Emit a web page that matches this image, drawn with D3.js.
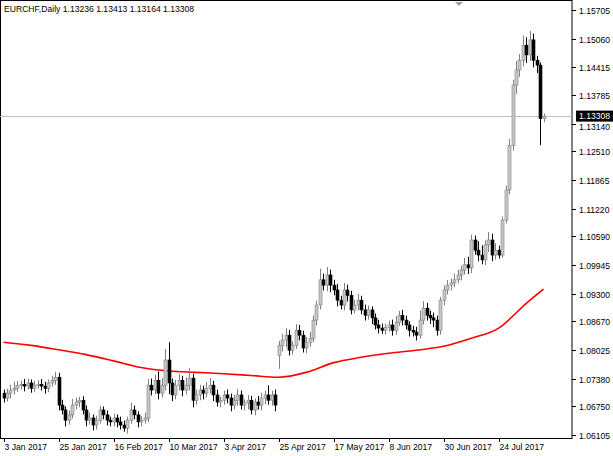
<!DOCTYPE html>
<html><head><meta charset="utf-8">
<script src="https://cdn.jsdelivr.net/npm/d3@7/dist/d3.min.js"></script>
<style>body{margin:0;background:#fff}svg{display:block}text{font-family:"Liberation Sans",sans-serif;font-size:8.6px}</style>
</head><body><svg id="c" width="613" height="456"></svg>
<script>
const dateLabels = ["3 Jan 2017","25 Jan 2017","16 Feb 2017","10 Mar 2017","3 Apr 2017","25 Apr 2017","17 May 2017","8 Jun 2017","30 Jun 2017","24 Jul 2017"];
const dateLabelIdx = [0,16,32,48,64,80,96,112,128,144];
const yTicks = [1.15705,1.15060,1.14415,1.13785,1.13140,1.12510,1.11865,1.11220,1.10590,1.09945,1.09300,1.08670,1.08025,1.07380,1.06750,1.06105];
const closes = [
1.0694,1.0705,1.0712,1.0716,1.0723,1.0725,1.0721,1.0728,1.0716,1.0723,1.0725,1.0721,1.0716,1.0728,1.0734,1.0741,
1.0678,1.0667,1.0644,1.0656,1.0678,1.0685,1.0689,1.0667,1.0644,1.0649,1.0633,1.0644,1.0667,1.0656,1.0644,1.0640,
1.0649,1.0640,1.0633,1.0626,1.0644,1.0667,1.0656,1.0640,1.0644,1.0649,1.0723,1.0712,1.0734,1.0705,1.0723,1.0780,
1.0728,1.0701,1.0723,1.0734,1.0712,1.0723,1.0739,1.0689,1.0701,1.0712,1.0705,1.0716,1.0723,1.0701,1.0685,1.0689,
1.0701,1.0694,1.0678,1.0689,1.0701,1.0678,1.0683,1.0689,1.0667,1.0685,1.0678,1.0694,1.0701,1.0689,1.0701,1.0678,
1.0813,1.0825,1.0836,1.0802,1.0813,1.0847,1.0836,1.0807,1.0820,1.0829,1.0870,1.0904,1.0961,1.0949,1.0972,1.0949,
1.0938,1.0915,1.0904,1.0938,1.0926,1.0893,1.0904,1.0915,1.0893,1.0881,1.0893,1.0875,1.0859,1.0852,1.0847,1.0854,
1.0859,1.0847,1.0865,1.0881,1.0870,1.0859,1.0847,1.0843,1.0836,1.0870,1.0897,1.0881,1.0875,1.0870,1.0847,1.0915,
1.0938,1.0949,1.0954,1.0961,1.0972,1.0983,1.0995,1.0988,1.1051,1.1028,1.1017,1.1006,1.1040,1.1051,1.1017,1.1028,
1.1017,1.1096,1.1164,1.1265,1.1401,1.1435,1.1457,1.1491,1.1469,1.1503,1.1457,1.1446,1.1325,1.13308];
const firstOpen = 1.0705;
const gapBar = 80, gapOpen = 1.0790;
const upWickPips = [
8,10,12,15,10,8,12,10,8,10,9,12,10,8,10,12, 10,12,8,10,14,10,8,9,10,12,8,10,9,8,10,8,
10,8,12,10,8,16,10,8,9,12,14,15,12,20,16,25, 40,10,12,14,10,18,22,10,12,12,10,14,16,10,12,8,
10,12,10,12,14,10,8,12,10,8,14,12,10,22,10,12, 10,14,16,12,10,14,12,10,12,14,10,10,25,14,18,12,
12,14,10,16,12,10,12,14,10,12,10,8,10,12,10,8, 10,12,14,10,12,10,8,10,12,22,16,12,10,12,10,8,
10,12,10,14,12,10,16,18,12,10,20,22,10,18,14,16, 10,8,10,14,12,20,14,22,18,20,14,10,6,6];
const dnWickPips = [
10,8,12,10,8,10,12,8,10,9,8,10,12,9,8,10, 12,10,14,10,8,10,12,10,14,10,12,10,8,10,12,10,
10,12,10,8,12,8,10,12,10,8,10,12,10,14,10,12, 25,14,10,12,14,10,12,16,10,12,14,10,12,14,10,12,
10,12,14,10,12,10,12,14,10,12,10,12,14,10,12,14, 30,14,16,12,10,8,12,10,12,10,8,12,10,12,14,16,
12,14,10,12,14,10,8,12,10,12,10,14,10,12,8,10, 10,12,10,8,12,10,14,10,12,8,10,12,14,16,12,10,
12,10,12,10,8,12,10,14,12,10,14,10,12,16,14,10, 8,6,8,10,12,20,16,14,18,14,16,18,60,8];
const maIdx = [0,8,16,24,32,40,48,56,64,72,80,88,96,104,112,120,128,136,144,152,157];
const maVals = [1.0820,1.0813,1.0803,1.0792,1.0778,1.0763,1.0755,1.0752,1.0749,1.0745,1.0741,1.0752,1.0774,1.0786,1.0795,1.0802,1.0811,1.0829,1.0852,1.0908,1.0940];
const title = "EURCHF,Daily  1.13236 1.13413 1.13164 1.13308";
const lastPrice = 1.13308;

const svg = d3.select("#c");
const R=572, B=438;
const x = d3.scaleLinear().domain([0,157]).range([3.5,543.5]);
const y = d3.scaleLinear().domain([1.06105,1.15705]).range([435,10]);

const bars = closes.map((c,i)=>{
  const o = i===0?firstOpen:(i===gapBar?gapOpen:closes[i-1]);
  return {i,o,c,h:Math.max(o,c)+upWickPips[i]/10000,l:Math.min(o,c)-dnWickPips[i]/10000};
});

svg.append("rect").attr("x",0.5).attr("y",0.5).attr("width",R-0.5).attr("height",B).attr("fill","none").attr("stroke","#000");
svg.append("line").attr("x1",0).attr("x2",R).attr("y1",Math.round(y(lastPrice))+0.5).attr("y2",Math.round(y(lastPrice))+0.5).attr("stroke","#c0c0c0");
svg.append("path").datum(maIdx.map((d,k)=>[d,maVals[k]]))
 .attr("d",d3.line().x(d=>x(d[0])).y(d=>y(d[1])).curve(d3.curveMonotoneX))
 .attr("fill","none").attr("stroke","#ff0000").attr("stroke-width",1.6);
const g = svg.append("g");
bars.forEach(b=>{
  const up = b.c>=b.o, cx=Math.round(x(b.i))+0.5;
  g.append("line").attr("x1",cx).attr("x2",cx).attr("y1",y(b.h)).attr("y2",y(b.l)).attr("stroke",up?"#808080":"#000");
  const top=y(Math.max(b.o,b.c)), bh=Math.max(1,y(Math.min(b.o,b.c))-top);
  g.append("rect").attr("x",cx-1.5).attr("y",top).attr("width",3).attr("height",bh)
   .attr("fill",up?"#c8c8c8":"#000").attr("stroke",up?"#808080":"#000").attr("stroke-width",0.6);
});
yTicks.forEach(t=>{
  const yy=Math.round(y(t))+0.5;
  svg.append("line").attr("x1",R).attr("x2",R+4).attr("y1",yy).attr("y2",yy).attr("stroke","#000");
  svg.append("text").attr("x",R+7).attr("y",yy+(t===1.13140?5:3)).text(t.toFixed(5));
});
const ly=y(lastPrice);
svg.append("rect").attr("x",R+4).attr("y",ly-5.5).attr("width",37).attr("height",11).attr("fill","#000");
svg.append("text").attr("x",R+7).attr("y",ly+3).attr("fill","#fff").text(lastPrice.toFixed(5));
dateLabelIdx.forEach((d,k)=>{
  const xx=Math.round(x(d))+0.5;
  svg.append("line").attr("x1",xx).attr("x2",xx).attr("y1",B).attr("y2",B+4).attr("stroke","#000");
  svg.append("text").attr("x",xx).attr("y",B+12).text(dateLabels[k]);
});
svg.append("text").attr("x",4).attr("y",12).text(title);
svg.append("path").attr("d","M455,2 L463,2 L459,6 Z").attr("fill","#a0a0a0");
</script></body></html>
